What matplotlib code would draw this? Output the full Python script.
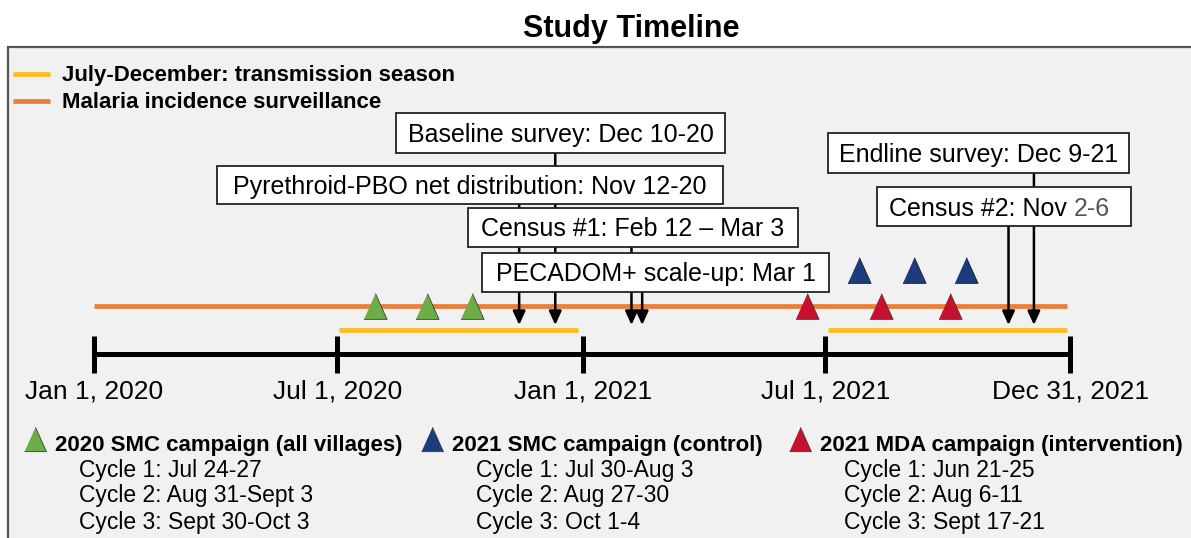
import numpy as np
import matplotlib
matplotlib.use("Agg")
import matplotlib.pyplot as plt
import matplotlib.transforms as mtransforms
from matplotlib.patches import Rectangle

plt.rcParams['font.family'] = ['Liberation Sans', 'DejaVu Sans']

# ---------------- data ----------------
tick_dates = ['2020-01-01', '2020-07-01', '2021-01-01', '2021-07-01', '2021-12-31']
tick_labels = ['Jan 1, 2020', 'Jul 1, 2020', 'Jan 1, 2021', 'Jul 1, 2021', 'Dec 31, 2021']

surveillance_period = ['2020-01-01', '2021-12-29']
season_starts = ['2020-07-02', '2021-07-03']
season_ends = ['2020-12-28', '2021-12-29']

smc2020_dates = ['2020-07-29', '2020-09-06', '2020-10-10']
smc2021_dates = ['2021-07-26', '2021-09-05', '2021-10-14']
mda2021_dates = ['2021-06-17', '2021-08-12', '2021-10-02']

event_labels = ['Baseline survey: Dec 10-20',
                'Pyrethroid-PBO net distribution: Nov 12-20',
                'Census #1: Feb 12 \u2013 Mar 3',
                'PECADOM+ scale-up: Mar 1',
                'Endline survey: Dec 9-21',
                'Census #2: Nov ']
event_label_suffix = ['', '', '', '', '', '2-6']
event_dates = ['2020-12-11', '2020-11-14', '2021-02-06', '2021-02-14',
               '2021-12-04', '2021-11-15']

legend_top_labels = ['July-December: transmission season', 'Malaria incidence surveillance']

campaign_titles = ['2020 SMC campaign (all villages)', '2021 SMC campaign (control)',
                   '2021 MDA campaign (intervention)']
campaign_cycles = [['Cycle 1: Jul 24-27', 'Cycle 2: Aug 31-Sept 3', 'Cycle 3: Sept 30-Oct 3'],
                   ['Cycle 1: Jul 30-Aug 3', 'Cycle 2: Aug 27-30', 'Cycle 3: Oct 1-4'],
                   ['Cycle 1: Jun 21-25', 'Cycle 2: Aug 6-11', 'Cycle 3: Sept 17-21']]

# ---------------- styles / layout ----------------
GREEN, BLUE, RED = '#6BAE47', '#1C3D7C', '#C5112F'
ORANGE, YELLOW = '#EB7F3A', '#FBBD1E'
W, H = 1191, 538

origin = np.datetime64('2020-01-01')
def days(ds):
    return (np.array(ds, dtype='datetime64[D]') - origin).astype(int)

fig = plt.figure(figsize=(W / 100, H / 100), dpi=100)
ax = fig.add_axes([0, 0, 1, 1])
ax.axis('off')
PX0, PXD = 94.0, 1.337  # pixel of Jan 1 2020, pixels per day
ax.set_xlim(-PX0 / PXD, (W - PX0) / PXD)
ax.set_ylim(H, 0)
P = mtransforms.Affine2D().scale(1 / W, -1 / H).translate(0, 1) + fig.transFigure

tri = [(-0.9, -1.0), (0.9, -1.0), (0.0, 1.0)]

# panel
ax.add_patch(Rectangle((8, 47), 1250, 560, transform=P, facecolor='#F1F1F1',
                       edgecolor='#555555', lw=1.6, zorder=0))
fig.text(631 / W, 1 - 37 / H, 'Study Timeline', ha='center', va='baseline',
         fontsize=22, fontweight='bold')

# top legend
for (y, c, lab) in zip([74, 101], [YELLOW, ORANGE], legend_top_labels):
    ax.plot([13, 50], [y, y], color=c, lw=3.4, transform=P, solid_capstyle='butt')
    ax.text(62, y + 6.5, lab, transform=P, fontsize=16, fontweight='bold', va='baseline')

# surveillance + season lines
sv = days(surveillance_period)
ax.hlines(306, sv[0], sv[1], color=ORANGE, lw=3.4, zorder=2)
ax.hlines([330, 330], days(season_starts), days(season_ends), color=YELLOW, lw=3.4, zorder=2)

# main timeline
td = days(tick_dates)
ax.hlines(354, td[0], td[-1], color='black', lw=3.6, zorder=3)
ax.vlines(td, 336, 373, color='black', lw=3.6, zorder=3)
for x, lab in zip(td, tick_labels):
    ax.text(x, 398, lab, ha='center', va='baseline', fontsize=19)

# triangles
ax.plot(days(smc2020_dates), [306] * 3, linestyle='none', marker=tri, markersize=18.5,
        color=GREEN, markeredgecolor='#3a3a3a', markeredgewidth=0.6, zorder=4)
ax.plot(days(smc2021_dates), [270] * 3, linestyle='none', marker=tri, markersize=18.5,
        color=BLUE, markeredgecolor='#1a1a1a', markeredgewidth=0.6, zorder=4)
ax.plot(days(mda2021_dates), [306] * 3, linestyle='none', marker=tri, markersize=18.5,
        color=RED, markeredgecolor='#3a3a3a', markeredgewidth=0.6, zorder=4)

# event boxes: (left, top, right, bottom) in pixels
boxes = [(396, 113, 725, 153), (217, 166, 723, 204), (468, 208, 798, 247),
         (482, 253, 829, 292), (828, 133, 1129, 173), (877, 187, 1131, 226)]
ed = days(event_dates)
for i, (lab, suf, (l, t, r, b)) in enumerate(zip(event_labels, event_label_suffix, boxes)):
    ax.add_patch(Rectangle((l, t), r - l, b - t, transform=P, facecolor='white',
                           edgecolor='#222222', lw=1.3, zorder=5))
    ax.annotate('', xy=(ed[i], 325), xytext=(ed[i], b),
                arrowprops=dict(arrowstyle='-|>,head_length=0.55,head_width=0.25',
                                color='black', lw=1.8, mutation_scale=15,
                                shrinkA=0, shrinkB=0), zorder=2)
    cy = (t + b) / 2 + 9
    if suf:
        t1 = ax.text(889, cy, lab, transform=P, fontsize=18, va='baseline', ha='left', zorder=6)
        ax.annotate(suf, xy=(1, 0), xycoords=t1, va='bottom', ha='left',
                    fontsize=18, color='#555555', zorder=6)
    else:
        ax.text((l + r) / 2, cy, lab, transform=P, fontsize=18, va='baseline',
                ha='center', zorder=6)

# bottom legend
leg_x = [35, 432, 800]
for lx, col, title, cyc in zip(leg_x, [GREEN, BLUE, RED], campaign_titles, campaign_cycles):
    ax.plot([lx], [439], marker=tri, markersize=17.5, color=col, transform=P,
            markeredgecolor='#3a3a3a', markeredgewidth=0.6, linestyle='none')
    ax.text(lx + 20, 451, title, transform=P, fontsize=16, fontweight='bold', va='baseline')
    for yy, c in zip([477, 502, 529], cyc):
        ax.text(lx + 44, yy, c, transform=P, fontsize=16.5, va='baseline')

fig.savefig('out.png', dpi=100, facecolor='white')
